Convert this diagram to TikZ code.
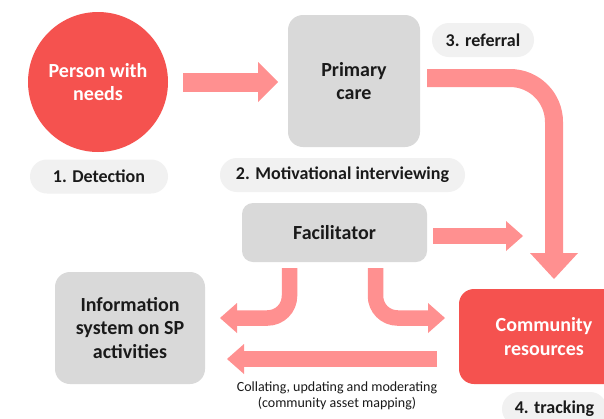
\documentclass[tikz,border=0pt]{standalone}
\usepackage{fontspec}
\setmainfont{Carlito}
\usetikzlibrary{arrows.meta}
\definecolor{redf}{HTML}{F5524F}
\definecolor{arrowc}{HTML}{FF9090}
\definecolor{boxg}{HTML}{D9D9D9}
\definecolor{pillg}{HTML}{F1F1F1}
\definecolor{txt}{HTML}{1A1A1A}
\tikzset{
  mainfont/.style={font=\fontsize{20}{23.5}\selectfont\bfseries},
  graybox/.style={fill=boxg, rounded corners=15pt, mainfont, text=txt, align=center, inner sep=0pt},
  redbox/.style={fill=redf, rounded corners=15pt, mainfont, text=white, align=center, inner sep=0pt},
  pill/.style={fill=pillg, rounded corners=17pt, minimum height=34pt, inner sep=0pt, text=txt,
    font=\fontsize{18}{20}\selectfont\bfseries},
  bigarrow/.style={draw=arrowc, line width=19pt, -{Triangle[width=40pt,length=20pt,line width=0pt]}},
  midarrow/.style={draw=arrowc, line width=15.5pt, -{Triangle[width=30pt,length=17pt,line width=0pt]}},
  refarrow/.style={draw=arrowc, line width=18pt, rounded corners=44pt, -{Triangle[width=48pt,length=26pt,line width=0pt]}},
}
\begin{document}
\begin{tikzpicture}[x=1pt,y=-1pt]
\useasboundingbox (0,0) rectangle (604,418);
\fill[white] (0,0) rectangle (604,418);
% nodes
\node[circle, fill=redf, minimum size=140pt, inner sep=0pt, mainfont, text=white, align=center] (person) at (98,82) {Person with\\needs};
\node[graybox, minimum width=132pt, minimum height=132pt] (primary) at (354,81) {Primary\\care};
\node[graybox, rounded corners=11pt, minimum width=185pt, minimum height=59pt] (facil) at (334.5,232.5) {Facilitator};
\node[graybox, minimum width=150pt, minimum height=112pt] (info) at (130,328) {Information\\system on SP\\activities};
\node[redbox, minimum width=170pt, minimum height=95pt] (comm) at (544,336.5) {Community\\resources};
% pills
\node[pill, minimum width=138pt] (p1) at (99,176.5) {1. Detection};
\node[pill, minimum width=245pt] (p2) at (342.5,175) {2. Motivational interviewing};
\node[pill, minimum width=102pt] (p3) at (483,40) {3. referral};
\node[pill, minimum width=105pt] (p4) at (554.5,409) {4. tracking};
% caption
\node[font=\fontsize{14}{16}\selectfont, text=txt, align=center] (cap) at (337,396) {Collating, updating and moderating\\(community asset mapping)};
% coordinates
\coordinate (a1s) at (183,82);
\coordinate (a1e) at (278,82);
\coordinate (rs) at (427,78);
\coordinate (re) at (554,279);
\coordinate (fs) at (433,236);
\coordinate (fe) at (523,236);
\coordinate (ls) at (289.5,268);
\coordinate (le) at (220,318);
\coordinate (rgs) at (375.5,268);
\coordinate (rge) at (445,318);
\coordinate (bs) at (437,359);
\coordinate (be) at (227,359);
% connectors
\draw[bigarrow] (a1s) -- (a1e);
\draw[refarrow] (rs) -| (re);
\draw[midarrow] (fs) -- (fe);
\draw[midarrow, rounded corners=22pt] (ls) |- (le);
\draw[midarrow, rounded corners=22pt] (rgs) |- (rge);
\draw[midarrow] (bs) -- (be);
\end{tikzpicture}
\end{document}
